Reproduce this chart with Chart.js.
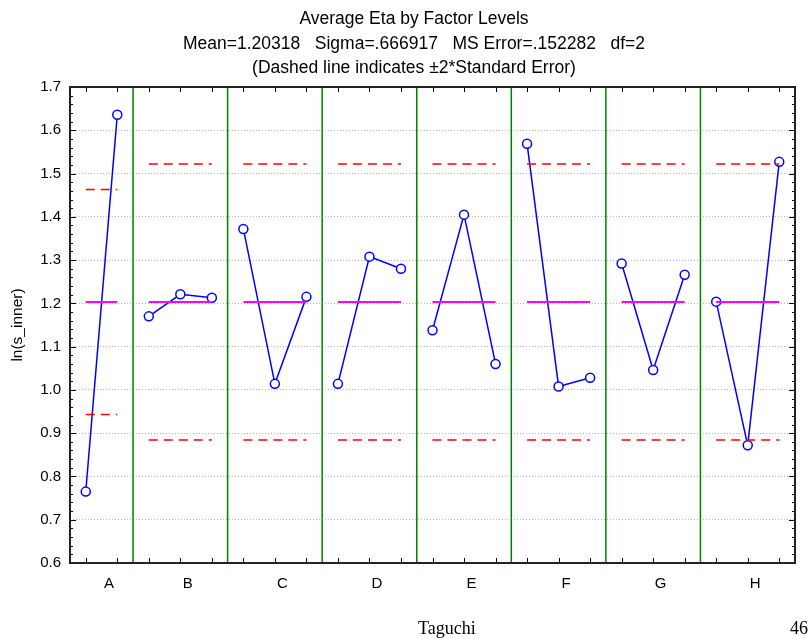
<!DOCTYPE html>
<html>
<head>
<meta charset="utf-8">
<script src="https://cdn.jsdelivr.net/npm/chart.js@4"></script>
<style>
  html, body { margin: 0; padding: 0; background: #fff; }
  #wrap { width: 812px; height: 639px; }
</style>
</head>
<body>
<div id="wrap"><canvas id="chart" width="812" height="639"></canvas></div>
<script>
const factorLabels = ['A', 'B', 'C', 'D', 'E', 'F', 'G', 'H'];

// average ln(s_inner) per level of each factor
const meansA = [0.765, 1.636];
const meansB = [1.170, 1.221, 1.213];
const meansC = [1.372, 1.014, 1.215];
const meansD = [1.014, 1.308, 1.280];
const meansE = [1.138, 1.405, 1.060];
const meansF = [1.569, 1.008, 1.028];
const meansG = [1.292, 1.046, 1.266];
const meansH = [1.204, 0.872, 1.527];

const grandMean = 1.20318;
const upperLimits = [1.463, 1.522, 1.522, 1.522, 1.522, 1.522, 1.522, 1.522];
const lowerLimits = [0.943, 0.884, 0.884, 0.884, 0.884, 0.884, 0.884, 0.884];

const yMin = 0.6;
const yMax = 1.7;

const titleLines = [
    'Average Eta by Factor Levels',
    'Mean=1.20318   Sigma=.666917   MS Error=.152282   df=2',
    '(Dashed line indicates \u00B12*Standard Error)'
];

const levelMeans = [meansA, meansB, meansC, meansD, meansE, meansF, meansG, meansH];

// each level gets one slot on a linear x axis
const groupStart = [];
let slotCount = 0;
levelMeans.forEach((m) => {
    groupStart.push(slotCount);
    slotCount += m.length;
});
const groupCenters = levelMeans.map((m, i) => groupStart[i] + m.length / 2);
const slotCenters = [];
levelMeans.forEach((m, i) => m.forEach((_, j) => slotCenters.push(groupStart[i] + j + 0.5)));

const datasets = [];

// green separators between factors
groupStart.slice(1).forEach((x) => {
    datasets.push({
        data: [{ x: x, y: yMin }, { x: x, y: yMax }],
        borderColor: 'rgb(0, 128, 0)',
        borderWidth: 1.5,
        pointRadius: 0,
    });
});

levelMeans.forEach((m, i) => {
    const x0 = groupStart[i] + 0.5;
    const x1 = groupStart[i] + m.length - 0.5;
    [upperLimits[i], lowerLimits[i]].forEach((lim) => {
        datasets.push({
            data: [{ x: x0, y: lim }, { x: x1, y: lim }],
            borderColor: 'rgb(255, 0, 0)',
            borderWidth: 1.5,
            borderDash: [9, 6],
            pointRadius: 0,
        });
    });
    datasets.push({
        data: [{ x: x0, y: grandMean }, { x: x1, y: grandMean }],
        borderColor: 'rgb(255, 0, 255)',
        borderWidth: 2,
        pointRadius: 0,
    });
});

levelMeans.forEach((m, i) => {
    datasets.push({
        data: m.map((v, j) => ({ x: groupStart[i] + j + 0.5, y: v })),
        borderColor: 'rgb(0, 0, 255)',
        borderWidth: 1.5,
        pointRadius: 4.5,
        pointBorderWidth: 1.5,
        pointBackgroundColor: '#fff',
        pointBorderColor: 'rgb(0, 0, 255)',
        tension: 0,
    });
});

const FONT = '"Liberation Sans", Arial, sans-serif';

const decorPlugin = {
    id: 'decor',
    afterDraw(chart) {
        const { ctx, chartArea: a, scales } = chart;
        const xs = scales.x, ys = scales.y;
        ctx.save();

        // slot tick marks at top and bottom
        ctx.strokeStyle = '#000';
        ctx.lineWidth = 1;
        slotCenters.forEach((v) => {
            const px = Math.round(xs.getPixelForValue(v)) + 0.5;
            ctx.beginPath();
            ctx.moveTo(px, a.bottom); ctx.lineTo(px, a.bottom - 5);
            ctx.moveTo(px, a.top); ctx.lineTo(px, a.top + 5);
            ctx.stroke();
        });

        // minor / major ticks on left and right
        for (let k = 0; k <= 55; k++) {
            const v = yMin + k * 0.02;
            const py = Math.round(ys.getPixelForValue(v)) + 0.5;
            const len = k % 5 === 0 ? 6 : 3;
            ctx.beginPath();
            ctx.moveTo(a.left, py); ctx.lineTo(a.left + len, py);
            ctx.moveTo(a.right, py); ctx.lineTo(a.right - len, py);
            ctx.stroke();
        }

        // frame
        ctx.lineWidth = 2;
        ctx.strokeStyle = '#222';
        ctx.strokeRect(a.left, a.top, a.right - a.left, a.bottom - a.top);

        // titles
        ctx.fillStyle = '#000';
        ctx.textAlign = 'center';
        ctx.textBaseline = 'middle';
        ctx.font = '17.5px ' + FONT;
        const ty = [19, 44, 68];
        titleLines.forEach((t, i) => ctx.fillText(t, 414, ty[i]));

        // page footer
        ctx.font = '18px "Liberation Serif", "Times New Roman", serif';
        ctx.textBaseline = 'alphabetic';
        ctx.textAlign = 'left';
        ctx.fillText('Taguchi', 418, 634);
        ctx.textAlign = 'right';
        ctx.fillText('46', 808, 634);
        ctx.restore();
    }
};

new Chart(document.getElementById('chart'), {
    type: 'line',
    data: { datasets },
    options: {
        responsive: false,
        animation: false,
        layout: { padding: { left: 0, right: 17, top: 87, bottom: 0 } },
        plugins: { legend: { display: false }, tooltip: { enabled: false }, title: { display: false } },
        scales: {
            x: {
                type: 'linear',
                min: 0,
                max: slotCount,
                afterBuildTicks: (scale) => { scale.ticks = groupCenters.map((v) => ({ value: v })); },
                afterFit: (scale) => { scale.height = 76; },
                ticks: {
                    callback: (value, index) => factorLabels[index],
                    color: '#000',
                    font: { family: FONT, size: 15 },
                    padding: 12,
                    labelOffset: 7.5,
                    maxRotation: 0,
                    autoSkip: false,
                },
                grid: { display: false, drawTicks: false },
                border: { display: false },
            },
            y: {
                min: yMin,
                max: yMax,
                afterFit: (scale) => { scale.width = 70; },
                ticks: {
                    stepSize: 0.1,
                    callback: (v) => v.toFixed(1),
                    color: '#000',
                    font: { family: FONT, size: 15 },
                    padding: 9,
                },
                grid: { color: '#b8b8b8', lineWidth: 1, drawTicks: false },
                border: { display: false, dash: [1, 2] },
                title: {
                    display: true,
                    text: 'ln(s_inner)',
                    color: '#000',
                    font: { family: FONT, size: 15.5 },
                    padding: { top: 8, bottom: 0 },
                },
            },
        },
    },
    plugins: [decorPlugin],
});
</script>
</body>
</html>
